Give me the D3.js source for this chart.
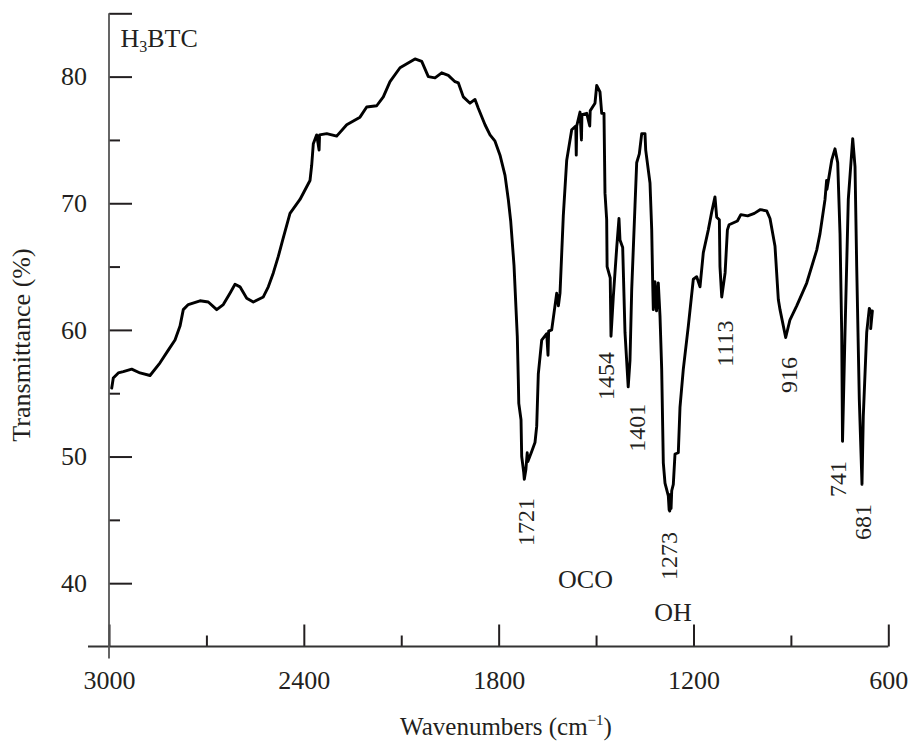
<!DOCTYPE html>
<html>
<head>
<meta charset="utf-8">
<script src="https://cdn.jsdelivr.net/npm/d3@7/dist/d3.min.js"></script>
<style>
  html, body { margin: 0; padding: 0; background: #fff; }
  svg { display: block; }
</style>
</head>
<body>
<svg id="chart" width="913" height="744"></svg>
<script>
// FT-IR spectrum of H3BTC (trimesic acid)
const wavenumbers = [
  2991.7, 2986.8, 2971.4, 2956.0, 2930.1, 2904.5, 2873.7, 2842.9, 2817.4, 2796.7,
  2781.3, 2771.2, 2755.8, 2719.7, 2694.2, 2668.3, 2648.0, 2627.4, 2611.9, 2596.6,
  2575.9, 2555.6, 2524.8, 2509.4, 2494.0, 2478.6, 2465.0, 2442.6, 2411.8, 2381.0,
  2375.8, 2370.8, 2360.4, 2353.0, 2351.5, 2329.6, 2298.8, 2267.9, 2227.0, 2206.4,
  2175.6, 2155.2, 2134.6, 2103.8, 2057.6, 2036.9, 2016.6, 1996.0, 1975.4, 1955.0,
  1934.4, 1924.0, 1908.9, 1888.2, 1872.8, 1862.7, 1842.0, 1826.6, 1811.2, 1795.8,
  1780.4, 1770.3, 1762.9, 1752.7, 1742.6, 1739.5, 1738.0, 1731.1, 1729.0, 1723.0,
  1721.0, 1716.0, 1712.0, 1710.0, 1698.2, 1688.1, 1682.8, 1677.9, 1667.4, 1652.0,
  1648.0, 1646.0, 1636.6, 1621.2, 1616.0, 1611.0, 1600.9, 1590.4, 1575.0, 1562.5,
  1561.0, 1559.6, 1549.4, 1545.0, 1543.5, 1528.8, 1519.5, 1518.0, 1503.3, 1498.0,
  1487.9, 1482.6, 1475.6, 1472.5, 1467.3, 1466.0, 1456.4, 1454.0, 1446.9, 1436.4,
  1429.4, 1426.3, 1418.0, 1410.9, 1401.0, 1395.5, 1390.2, 1380.1, 1374.9, 1366.8,
  1359.4, 1349.3, 1347.1, 1333.9, 1328.6, 1325.6, 1323.7, 1318.5, 1313.8, 1308.3,
  1303.1, 1297.9, 1292.9, 1287.7, 1277.5, 1275.0, 1273.0, 1271.0, 1269.0, 1267.0,
  1262.1, 1256.9, 1246.7, 1241.5, 1231.3, 1215.9, 1200.5, 1190.1, 1179.9, 1169.7,
  1154.3, 1143.9, 1133.8, 1128.5, 1120.3, 1118.4, 1113.0, 1102.6, 1095.5, 1090.3,
  1064.7, 1054.2, 1033.1, 1012.5, 993.9, 974.5, 964.3, 948.9, 938.7, 933.5,
  916.0, 902.8, 882.1, 851.3, 820.5, 810.3, 794.9, 790.0, 789.0, 774.3,
  764.2, 755.8, 748.7, 743.5, 741.0, 733.3, 723.2, 709.6, 702.5, 697.3,
  689.3, 681.0, 677.0, 666.5, 658.5, 651.1, 654.2, 649.0
];
const transmittance = [
  55.4, 56.2, 56.6, 56.7, 56.9, 56.6, 56.4, 57.4, 58.4, 59.2,
  60.3, 61.6, 62.0, 62.3, 62.2, 61.6, 62.0, 62.9, 63.6, 63.4,
  62.5, 62.2, 62.6, 63.4, 64.5, 65.8, 67.1, 69.2, 70.3, 71.8,
  73.0, 74.7, 75.4, 74.2, 75.4, 75.5, 75.3, 76.2, 76.8, 77.6,
  77.7, 78.4, 79.6, 80.7, 81.4, 81.2, 80.0, 79.9, 80.3, 80.1,
  79.6, 79.5, 78.4, 77.9, 78.2, 77.5, 76.2, 75.4, 74.9, 73.8,
  72.2, 70.3, 68.6, 65.1, 59.5, 56.1, 54.2, 52.9, 50.0, 48.8,
  48.2, 49.0, 50.3, 49.6, 50.4, 51.1, 52.4, 56.5, 59.2, 59.7,
  58.0, 59.9, 60.0, 62.9, 61.9, 62.9, 69.0, 73.4, 75.8, 76.1,
  73.8, 76.1, 77.2, 75.0, 77.0, 77.1, 76.1, 77.3, 77.9, 79.3,
  78.8, 77.1, 77.1, 70.8, 68.7, 65.0, 64.1, 59.5, 62.6, 66.5,
  68.8, 67.1, 66.5, 59.8, 55.5, 57.6, 63.2, 69.8, 73.2, 73.9,
  75.5, 75.5, 74.2, 71.6, 67.9, 63.7, 61.6, 63.8, 61.5, 63.7,
  61.1, 56.9, 49.5, 47.9, 46.9, 45.8, 45.7, 47.0, 45.9, 47.3,
  47.8, 50.2, 50.3, 53.9, 56.9, 60.3, 64.0, 64.2, 63.4, 66.1,
  67.9, 69.3, 70.5, 68.9, 68.7, 65.0, 62.6, 64.5, 67.9, 68.3,
  68.6, 69.1, 69.0, 69.2, 69.5, 69.4, 68.8, 66.6, 62.4, 61.6,
  59.4, 60.8, 61.9, 63.7, 66.3, 67.6, 70.3, 71.8, 71.1, 73.4,
  74.3, 73.2, 67.6, 59.8, 51.2, 59.8, 70.3, 75.1, 72.9, 65.0,
  54.5, 47.8, 53.2, 59.8, 61.7, 61.3, 60.1, 61.5
];

// axis ticks
const xTicksMajor = [3000, 2400, 1800, 1200, 600];
const xTicksMinor = [2700, 2100, 1500, 900];
const yTicksMajor = [40, 50, 60, 70, 80];
const yTicksMinor = [45, 55, 65, 75];

// assigned absorption bands
const peakWavenumbers = [1721, 1454, 1401, 1273, 1113, 916, 741, 681];
const peakLabels = ["1721", "1454", "1401", "1273", "1113", "916", "741", "681"];
const bandLabels = ["OCO", "OH"];

// label placement (pixel offsets from the band position, bottom edge of rotated text)
const peakLabelDx = [2, -5.2, 8.6, -1.3, 3.3, 3.3, -5, 1];
const peakLabelBottom = [546, 400, 451.7, 580, 366.7, 393, 497, 540];
const bandLabelPos = [[585.5, 588], [673, 621]];

const FONT = "'Liberation Serif', 'Times New Roman', Times, serif";
const INK = "#231f20";

const svg = d3.select("#chart");
svg.append("rect").attr("width", 913).attr("height", 744).attr("fill", "#fff");

const x = d3.scaleLinear().domain([3000, 600]).range([109, 888.3]);
const y = d3.scaleLinear().domain([35, 85]).range([646.5, 13.3]);

function styleAxis(g) {
  g.select(".domain").remove();
  g.selectAll(".tick line").attr("stroke", INK).attr("stroke-width", 2);
  g.selectAll(".tick text")
    .attr("font-family", FONT)
    .attr("font-size", 26)
    .attr("fill", INK);
  g.attr("font-family", null).attr("font-size", null);
}

// x axis
svg.append("g")
  .attr("transform", `translate(0,${y(35)})`)
  .call(d3.axisBottom(x).tickValues(xTicksMajor).tickSize(-22).tickPadding(24).tickFormat(d3.format("d")))
  .call(styleAxis);
svg.append("g")
  .attr("transform", `translate(0,${y(35)})`)
  .call(d3.axisBottom(x).tickValues(xTicksMinor).tickSize(-11).tickFormat(""))
  .call(styleAxis);

// y axis
svg.append("g")
  .attr("transform", `translate(${x(3000)},0)`)
  .call(d3.axisLeft(y).tickValues(yTicksMajor).tickSize(-23).tickPadding(22).tickFormat(d3.format("d")))
  .call(styleAxis);
svg.append("g")
  .attr("transform", `translate(${x(3000)},0)`)
  .call(d3.axisLeft(y).tickValues(yTicksMinor).tickSize(-11).tickFormat(""))
  .call(styleAxis);
svg.append("g")
  .attr("transform", `translate(${x(3000)},0)`)
  .call(d3.axisLeft(y).tickValues([85]).tickSize(-23).tickFormat(""))
  .call(styleAxis);

// axis lines, crossing at the lower-left corner
svg.append("line")
  .attr("x1", x(3000) - 21).attr("x2", x(600))
  .attr("y1", y(35)).attr("y2", y(35))
  .attr("stroke", "#333").attr("stroke-width", 2);
svg.append("line")
  .attr("x1", x(3000)).attr("x2", x(3000))
  .attr("y1", y(85)).attr("y2", y(35) + 12)
  .attr("stroke", "#555").attr("stroke-width", 1.8);

// spectrum
const pts = wavenumbers.map((w, i) => [w, transmittance[i]]);
svg.append("path")
  .datum(pts)
  .attr("fill", "none")
  .attr("stroke", "#000")
  .attr("stroke-width", 2.9)
  .attr("stroke-linejoin", "round")
  .attr("stroke-linecap", "round")
  .attr("d", d3.line().x(d => x(d[0])).y(d => y(d[1])));

// band wavenumber labels (rotated)
peakWavenumbers.forEach((w, i) => {
  svg.append("text")
    .attr("transform", `translate(${x(w) + peakLabelDx[i]},${peakLabelBottom[i]}) rotate(-90)`)
    .attr("dy", "0.34em")
    .attr("text-anchor", "start")
    .attr("font-family", FONT)
    .attr("font-size", 24)
    .attr("fill", INK)
    .text(peakLabels[i]);
});

// group assignments
bandLabels.forEach((t, i) => {
  svg.append("text")
    .attr("x", bandLabelPos[i][0]).attr("y", bandLabelPos[i][1])
    .attr("text-anchor", "middle")
    .attr("font-family", FONT)
    .attr("font-size", 26)
    .attr("fill", INK)
    .text(t);
});

// sample name
const name = svg.append("text")
  .attr("x", 120.5).attr("y", 47)
  .attr("font-family", FONT).attr("font-size", 26).attr("fill", INK);
name.append("tspan").text("H");
name.append("tspan").attr("font-size", 16).attr("dy", 5).text("3");
name.append("tspan").attr("dy", -5).text("BTC");

// axis titles
const xt = svg.append("text")
  .attr("x", 506).attr("y", 735)
  .attr("text-anchor", "middle")
  .attr("font-family", FONT).attr("font-size", 25).attr("fill", INK);
xt.append("tspan").text("Wavenumbers (cm");
xt.append("tspan").attr("font-size", 15).attr("dy", -10).text("\u22121");
xt.append("tspan").attr("dy", 10).text(")");

svg.append("text")
  .attr("transform", "translate(30,345) rotate(-90)")
  .attr("text-anchor", "middle")
  .attr("font-family", FONT).attr("font-size", 26).attr("fill", INK)
  .text("Transmittance (%)");
</script>
</body>
</html>
